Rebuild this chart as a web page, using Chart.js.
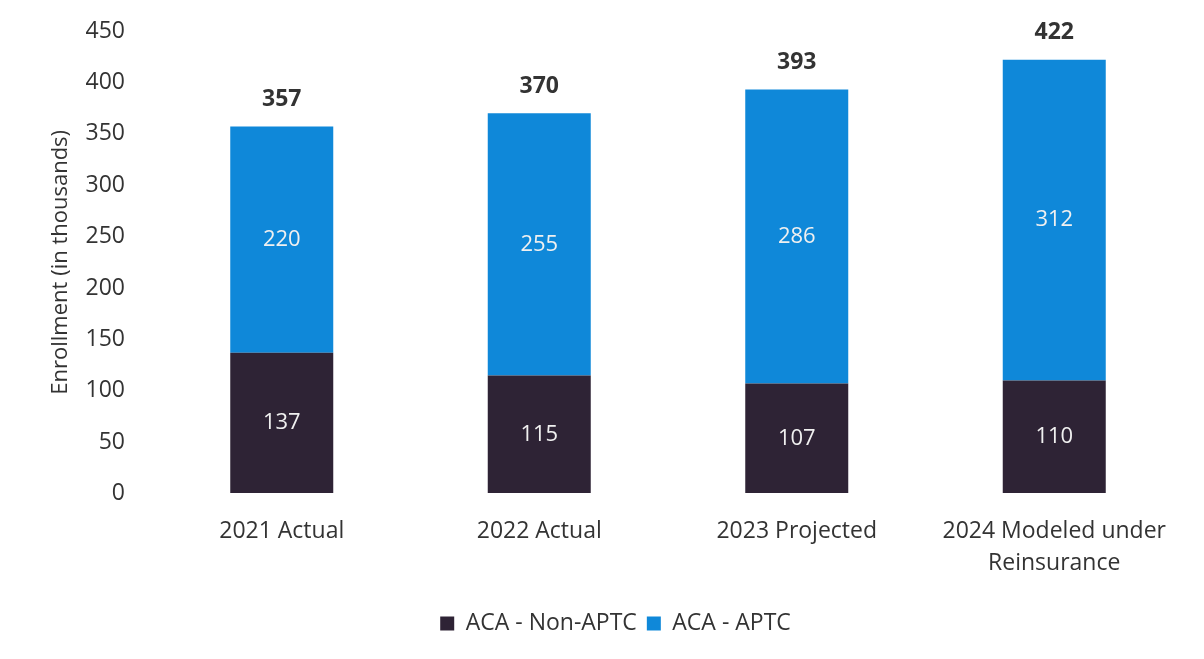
<!DOCTYPE html>
<html><head><meta charset="utf-8">
<script src="https://cdn.jsdelivr.net/npm/chart.js@4"></script>
<style>html,body{margin:0;padding:0;background:#fff}#wrap{width:1204px;height:659px}</style>
</head><body><div id="wrap"><canvas id="c" width="1204" height="659"></canvas></div>
<script>
const categories = [["2021 Actual"], ["2022 Actual"], ["2023 Projected"], ["2024 Modeled under", "Reinsurance"]];
const nonAPTC = [137, 115, 107, 110];
const aptc = [220, 255, 286, 312];
const totals = [357, 370, 393, 422];
const yTicks = [0, 50, 100, 150, 200, 250, 300, 350, 400, 450];

const FONT = "'Open Sans', 'Noto Sans', sans-serif";

const labelPlugin = {
  id: 'labels',
  afterDatasetsDraw(chart) {
    const ctx = chart.ctx;
    ctx.save();
    ctx.textAlign = 'center';
    ctx.textBaseline = 'middle';
    chart.data.datasets.forEach((ds, di) => {
      const meta = chart.getDatasetMeta(di);
      meta.data.forEach((bar, i) => {
        const mid = (bar.y + bar.base) / 2;
        ctx.font = '22px ' + FONT;
        ctx.fillStyle = '#f0f0f0';
        ctx.fillText(String(ds.data[i]), bar.x, mid);
      });
    });
    const top = chart.getDatasetMeta(1);
    top.data.forEach((bar, i) => {
      ctx.font = 'bold 23px ' + FONT;
      ctx.fillStyle = '#333333';
      ctx.fillText(String(totals[i]), bar.x, bar.y - 27);
    });
    ctx.restore();
  }
};

new Chart(document.getElementById('c'), {
  type: 'bar',
  data: {
    labels: categories,
    datasets: [
      { label: 'ACA - Non-APTC', data: nonAPTC, backgroundColor: '#2e2335', borderWidth: 0, barPercentage: 0.8, categoryPercentage: 0.5 },
      { label: 'ACA - APTC', data: aptc, backgroundColor: '#0f88d9', borderWidth: 0, barPercentage: 0.8, categoryPercentage: 0.5 }
    ]
  },
  options: {
    responsive: false,
    animation: false,
    devicePixelRatio: 1,
    layout: { padding: { top: 31, right: 21, bottom: 14, left: 48 } },
    plugins: {
      legend: {
        position: 'bottom',
        labels: { font: { family: FONT, size: 23 }, color: '#333', boxWidth: 14, boxHeight: 14, padding: 10 },
        onClick: null
      },
      tooltip: { enabled: false }
    },
    scales: {
      x: {
        stacked: true,
        grid: { display: false, drawTicks: false },
        border: { display: false },
        ticks: { font: { family: FONT, size: 23, lineHeight: 1.4 }, color: '#333', padding: 22 }
      },
      y: {
        stacked: true,
        min: 0, max: 450,
        afterBuildTicks(axis) { axis.ticks = yTicks.map(v => ({ value: v })); },
        afterFit(axis) { axis.width = 105; },
        grid: { display: true, drawOnChartArea: false, drawTicks: true, tickLength: 24, color: 'rgba(0,0,0,0)', tickColor: 'rgba(0,0,0,0)' },
        border: { display: false },
        ticks: { font: { family: FONT, size: 23 }, color: '#333', padding: 4 },
        title: { display: true, text: 'Enrollment (in thousands)', font: { family: FONT, size: 22 }, color: '#333', padding: 0 }
      }
    }
  },
  plugins: [labelPlugin]
});
</script></body></html>
